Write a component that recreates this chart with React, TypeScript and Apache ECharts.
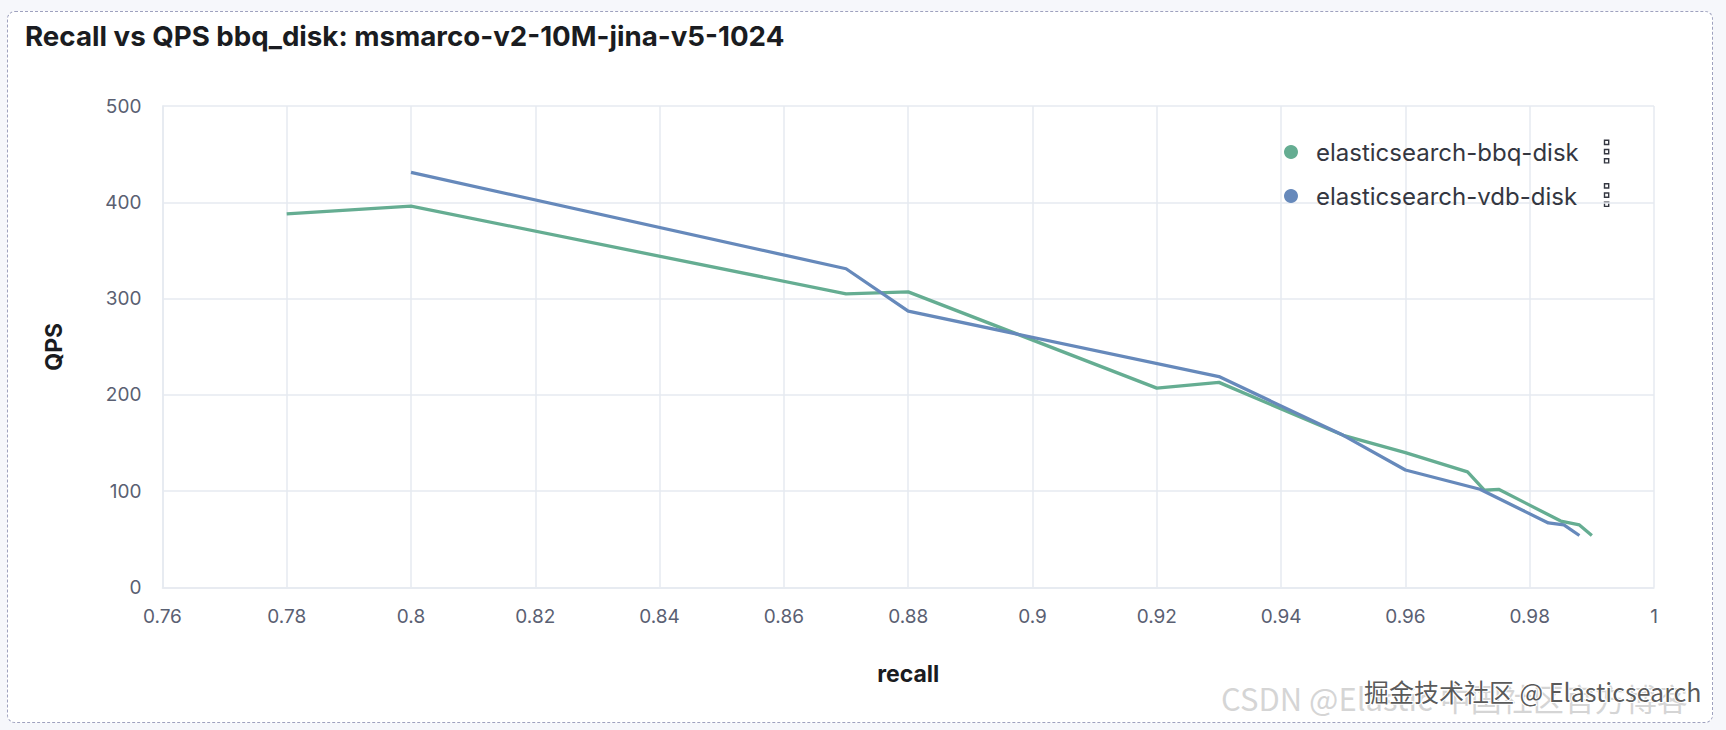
import React, { useEffect, useRef } from "react";
import * as echarts from "echarts";

const TITLE = "Recall vs QPS bbq_disk: msmarco-v2-10M-jina-v5-1024";
const SERIES_NAMES = ["elasticsearch-bbq-disk", "elasticsearch-vdb-disk"];

const bbqRecall = [0.78, 0.8, 0.87, 0.88, 0.92, 0.93, 0.95, 0.96, 0.97, 0.9727, 0.975, 0.985, 0.988, 0.99];
const bbqQps = [388, 396, 305, 307, 207, 213, 158, 140, 120, 101, 102, 69, 65, 54];

const vdbRecall = [0.8, 0.87, 0.88, 0.93, 0.95, 0.96, 0.972, 0.983, 0.9855, 0.988];
const vdbQps = [431, 331, 287, 219, 158, 122, 102, 67, 65, 54];

const X_MIN = 0.76;
const X_MAX = 1;
const X_STEP = 0.02;
const Y_MIN = 0;
const Y_MAX = 500;
const Y_STEP = 100;

const COLORS = ["#65ad92", "#6689bb"];

const W = 1726;
const H = 730;

function pairs(xs: number[], ys: number[]) {
  return xs.map((x, i) => [x, ys[i]]);
}

function dragIcon(top: number) {
  return [0, 1, 2].map((k) => ({
    type: "rect",
    silent: true,
    shape: { x: 1604.5, y: top + k * 9.2, width: 4.2, height: 4.2 },
    style: { fill: "#ffffff", stroke: "#343741", lineWidth: 1.4 },
  }));
}

export default function App() {
  const ref = useRef<HTMLDivElement>(null);

  useEffect(() => {
    if (!ref.current) return;
    const chart = echarts.init(ref.current, undefined, { renderer: "svg" });
    const gridColor = "#e6eaf0";
    chart.setOption({
      animation: false,
      textStyle: { fontFamily: "Inter, 'Noto Sans', sans-serif" },
      title: {
        text: TITLE,
        left: 25,
        top: 22,
        padding: 0,
        textStyle: { fontSize: 27.7, fontWeight: 700, color: "#1a1c21", fontFamily: "Inter" },
      },
      legend: {
        data: SERIES_NAMES,
        orient: "vertical",
        left: 1284,
        top: 139,
        padding: 0,
        itemWidth: 14,
        itemHeight: 14,
        itemGap: 18,
        icon: "circle",
        textStyle: { fontSize: 24, color: "#343741", lineHeight: 26, padding: [0, 0, 0, 13], fontFamily: "Inter" },
      },
      grid: { left: 162.4, right: 72, top: 106, bottom: 142.5, containLabel: false },
      xAxis: {
        type: "value",
        min: X_MIN,
        max: X_MAX,
        interval: X_STEP,
        name: "recall",
        nameLocation: "middle",
        nameGap: 75,
        nameTextStyle: { fontSize: 23, fontWeight: 700, color: "#1a1c21", fontFamily: "Inter" },
        axisLine: { show: true, lineStyle: { color: gridColor, width: 1.5 } },
        axisTick: { show: false },
        axisLabel: { fontSize: 19, color: "#5a6072", margin: 19, fontFamily: "Inter" },
        splitLine: { show: true, lineStyle: { color: gridColor, width: 1.5 } },
      },
      yAxis: {
        type: "value",
        min: Y_MIN,
        max: Y_MAX,
        interval: Y_STEP,
        name: "QPS",
        nameLocation: "middle",
        nameGap: 97,
        nameTextStyle: { fontSize: 23, fontWeight: 700, color: "#1a1c21", fontFamily: "Inter" },
        axisLine: { show: true, lineStyle: { color: gridColor, width: 1.5 } },
        axisTick: { show: false },
        axisLabel: { fontSize: 19, color: "#5a6072", margin: 21, fontFamily: "Inter" },
        splitLine: { show: true, lineStyle: { color: gridColor, width: 1.5 } },
      },
      series: [
        {
          name: SERIES_NAMES[0],
          type: "line",
          data: pairs(bbqRecall, bbqQps),
          showSymbol: false,
          symbol: "circle",
          color: COLORS[0],
          lineStyle: { width: 3.3, color: COLORS[0] },
        },
        {
          name: SERIES_NAMES[1],
          type: "line",
          data: pairs(vdbRecall, vdbQps),
          showSymbol: false,
          symbol: "circle",
          color: COLORS[1],
          lineStyle: { width: 3.3, color: COLORS[1] },
        },
      ],
      graphic: [
        ...dragIcon(140.3),
        ...dragIcon(183.8),
        {
          type: "text",
          silent: true,
          left: 1221,
          top: 682,
          z: 100,
          style: {
            text: "CSDN @Elastic 中国社区官方博客",
            fontSize: 31,
            fontFamily: "'Noto Sans CJK SC', 'Noto Sans', sans-serif",
            fill: "rgba(200,200,200,0.75)",
          },
        },
        {
          type: "text",
          silent: true,
          left: 1363,
          top: 677,
          z: 101,
          style: {
            text: "掘金技术社区 @ Elasticsearch",
            fontSize: 25,
            fontFamily: "'Noto Sans CJK SC', 'Noto Sans', sans-serif",
            fill: "rgba(60,60,60,0.85)",
            stroke: "#ffffff",
            lineWidth: 2,
          },
        },
      ],
    });
    return () => chart.dispose();
  }, []);

  return (
    <div style={{ position: "fixed", left: 0, top: 0, width: W, height: H, background: "#f6f7fb", overflow: "hidden" }}>
      <div
        style={{
          position: "absolute",
          left: 7,
          top: 11,
          width: 1706,
          height: 712,
          boxSizing: "border-box",
          border: "1.5px dashed #9fa2bf",
          borderRadius: 8,
          background: "#ffffff",
        }}
      />
      <div ref={ref} style={{ position: "absolute", left: 0, top: 0, width: W, height: H }} />
    </div>
  );
}
